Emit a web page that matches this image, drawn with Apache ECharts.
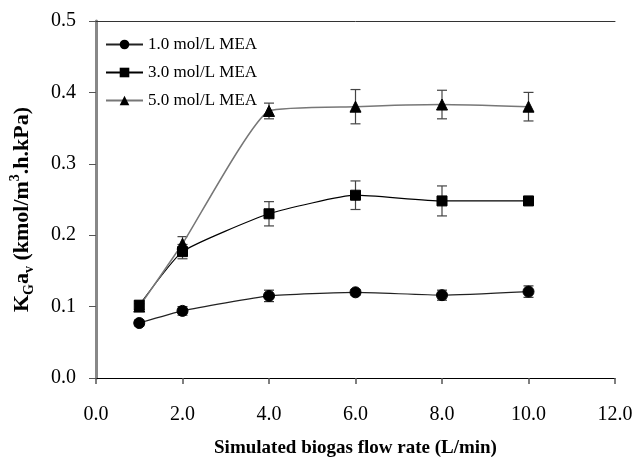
<!DOCTYPE html>
<html>
<head>
<meta charset="utf-8">
<script src="https://cdn.jsdelivr.net/npm/echarts@6/dist/echarts.min.js"></script>
<style>
  html, body { margin: 0; padding: 0; background: #fff; }
  #chart { width: 637px; height: 466px; }
</style>
</head>
<body>
<div id="chart"></div>
<script>
// Flow rate (L/min) and KGav values for the three MEA concentrations
const flowRates = [1.0, 2.0, 4.0, 6.0, 8.0, 10.0];
const mea1 = [0.077, 0.094, 0.115, 0.120, 0.116, 0.121];
const mea1Err = [0.004, 0.006, 0.008, 0.004, 0.007, 0.008];
const mea3 = [0.102, 0.177, 0.230, 0.256, 0.248, 0.248];
const mea3Err = [0.006, 0.010, 0.017, 0.020, 0.021, 0.006];
const mea5 = [0.100, 0.188, 0.374, 0.380, 0.383, 0.380];
const mea5Err = [0.004, 0.010, 0.011, 0.024, 0.020, 0.020];
const seriesNames = ['1.0 mol/L MEA', '3.0 mol/L MEA', '5.0 mol/L MEA'];
const xTicks = { min: 0, max: 12, interval: 2 };
const yTicks = { min: 0, max: 0.5, interval: 0.1 };

const serif = '"Liberation Serif", "Times New Roman", serif';

function pairs(vals) { return flowRates.map((x, i) => [x, vals[i]]); }
function errData(vals, errs) { return flowRates.map((x, i) => [x, vals[i] - errs[i], vals[i] + errs[i]]); }

// Error bars drawn with the axes' own coordinate mapping
function errorBars(vals, errs, color) {
  return {
    type: 'custom',
    data: errData(vals, errs),
    z: 1,
    silent: true,
    renderItem: function (params, api) {
      const x = api.value(0);
      const lo = api.coord([x, api.value(1)]);
      const hi = api.coord([x, api.value(2)]);
      const cap = 5;
      const st = { stroke: color, lineWidth: 1.2 };
      return {
        type: 'group',
        children: [
          { type: 'line', shape: { x1: lo[0], y1: lo[1], x2: hi[0], y2: hi[1] }, style: st },
          { type: 'line', shape: { x1: lo[0] - cap, y1: lo[1], x2: lo[0] + cap, y2: lo[1] }, style: st },
          { type: 'line', shape: { x1: hi[0] - cap, y1: hi[1], x2: hi[0] + cap, y2: hi[1] }, style: st }
        ]
      };
    }
  };
}

function lineSeries(name, vals, symbol, size, color, width) {
  return {
    name: name,
    type: 'line',
    data: pairs(vals),
    smooth: 0.15,
    symbol: symbol,
    symbolSize: size,
    z: 3,
    lineStyle: { color: color, width: width },
    itemStyle: { color: '#000', borderColor: '#000' }
  };
}

const chart = echarts.init(document.getElementById('chart'), null, { renderer: 'canvas' });
chart.setOption({
  animation: false,
  backgroundColor: '#fff',
  grid: { left: 96, right: 22, top: 21, bottom: 88 },
  legend: {
    orient: 'vertical',
    left: 100,
    top: 31,
    itemWidth: 37,
    itemHeight: 12,
    itemGap: 11,
    data: seriesNames,
    textStyle: { fontFamily: serif, fontSize: 17, color: '#000' }
  },
  xAxis: [{
    type: 'value',
    min: xTicks.min, max: xTicks.max, interval: xTicks.interval,
    name: 'Simulated biogas flow rate (L/min)',
    nameLocation: 'middle',
    nameGap: 61,
    nameTextStyle: { fontFamily: serif, fontSize: 19, fontWeight: 'bold', color: '#000' },
    axisLine: { show: true, lineStyle: { color: '#000', width: 1 } },
    axisTick: { show: true, length: 6, lineStyle: { color: '#555', width: 1.5 } },
    axisLabel: { margin: 27, fontFamily: serif, fontSize: 20, color: '#000',
      formatter: v => v.toFixed(1) },
    splitLine: { show: false }
  }, {
    type: 'value', position: 'top',
    min: xTicks.min, max: xTicks.max, interval: xTicks.interval,
    axisLine: { show: true, onZero: false, lineStyle: { color: '#333', width: 1 } },
    axisTick: { show: false }, axisLabel: { show: false }, splitLine: { show: false }
  }],
  yAxis: [{
    type: 'value',
    min: yTicks.min, max: yTicks.max, interval: yTicks.interval,
    name: '{b|K}{s|G}{b|a}{s|v}{b| (kmol/m}{p|3}{b|.h.kPa)}',
    nameLocation: 'middle',
    nameGap: 60,
    nameRotate: 90,
    nameTextStyle: {
      padding: [0, 20, 0, 0],
      rich: {
        b: { fontFamily: serif, fontSize: 22, fontWeight: 'bold', color: '#000', lineHeight: 28, verticalAlign: 'middle' },
        s: { fontFamily: serif, fontSize: 14, fontWeight: 'bold', color: '#000', lineHeight: 28, verticalAlign: 'bottom', padding: [9, 0, 0, 0] },
        p: { fontFamily: serif, fontSize: 14, fontWeight: 'bold', color: '#000', lineHeight: 28, verticalAlign: 'top', padding: [0, 0, 11, 0] }
      }
    },
    axisLine: { show: true, lineStyle: { color: '#666', width: 1.5 } },
    axisTick: { show: true, length: 7, inside: false, lineStyle: { color: '#555', width: 1 } },
    axisLabel: { margin: 20, fontFamily: serif, fontSize: 20, color: '#000',
      formatter: v => v.toFixed(1) },
    splitLine: { show: false }
  }, {
    type: 'value', position: 'right',
    min: yTicks.min, max: yTicks.max, interval: yTicks.interval,
    axisLine: { show: true, lineStyle: { color: '#888', width: 3 } },
    axisTick: { show: false }, axisLabel: { show: false }, splitLine: { show: false }
  }],
  series: [
    errorBars(mea1, mea1Err, '#333'),
    errorBars(mea3, mea3Err, '#444'),
    errorBars(mea5, mea5Err, '#444'),
    lineSeries(seriesNames[0], mea1, 'circle', 11, '#222', 1.2),
    lineSeries(seriesNames[1], mea3, 'rect', 10, '#000', 1.2),
    lineSeries(seriesNames[2], mea5, 'triangle', 11, '#777', 1.5)
  ]
});
</script>
</body>
</html>
